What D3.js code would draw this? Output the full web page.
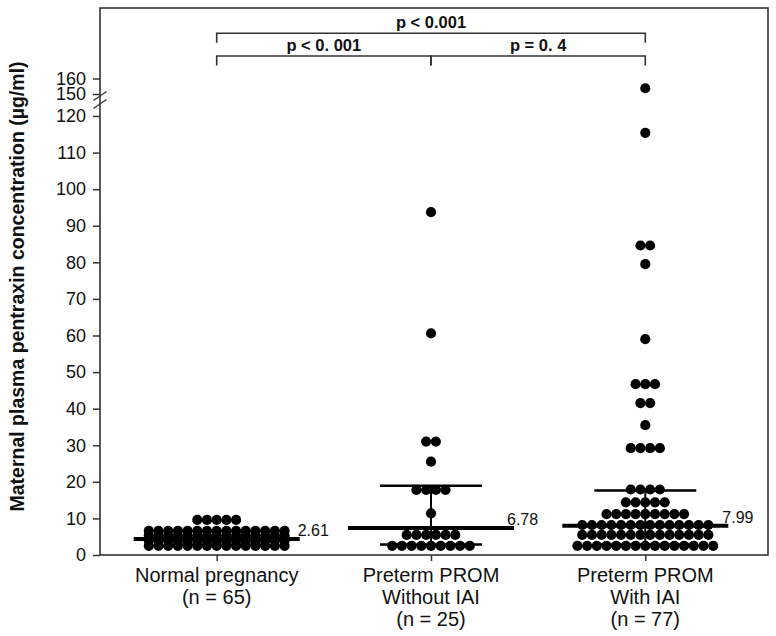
<!DOCTYPE html>
<html><head><meta charset="utf-8">
<script src="https://cdn.jsdelivr.net/npm/d3@7"></script>
<style>
body{margin:0;background:#fff}
svg{display:block}
text{font-family:"Liberation Sans",Arial,Helvetica,sans-serif;fill:#111}
</style>
</head><body><svg id="chart" width="776" height="636"></svg>
<script>
// ---------------- data ----------------
const groups = ["Normal pregnancy", "Preterm PROM Without IAI", "Preterm PROM With IAI"];
const groupLabelLines = [
  ["Normal pregnancy", "(n = 65)"],
  ["Preterm PROM", "Without IAI", "(n = 25)"],
  ["Preterm PROM", "With IAI", "(n = 77)"]
];
const normalValues = [
  9.6, 9.6, 9.6, 9.6, 9.6,
  6.6, 6.6, 6.6, 6.6, 6.6, 6.6, 6.6, 6.6, 6.6, 6.6, 6.6, 6.6, 6.6, 6.6, 6.6,
  5.3, 5.3, 5.3, 5.3, 5.3, 5.3, 5.3, 5.3, 5.3, 5.3, 5.3, 5.3, 5.3, 5.3, 5.3,
  3.9, 3.9, 3.9, 3.9, 3.9, 3.9, 3.9, 3.9, 3.9, 3.9, 3.9, 3.9, 3.9, 3.9, 3.9,
  2.5, 2.5, 2.5, 2.5, 2.5, 2.5, 2.5, 2.5, 2.5, 2.5, 2.5, 2.5, 2.5, 2.5, 2.5
];
const withoutIAIValues = [
  93.7, 60.6, 31.0, 31.0, 25.5,
  17.8, 17.8, 17.8, 17.8,
  11.4,
  5.5, 5.5, 5.5, 5.5, 5.5, 5.5,
  2.5, 2.5, 2.5, 2.5, 2.5, 2.5, 2.5, 2.5, 2.5
];
const withIAIValues = [
  153.7, 115.4, 84.6, 84.6, 79.5, 59.0,
  46.7, 46.7, 46.7, 41.5, 41.5, 35.5,
  29.2, 29.2, 29.2, 29.2,
  17.9, 17.9, 17.9, 17.9,
  14.4, 14.4, 14.4, 14.4, 14.4,
  11.2, 11.2, 11.2, 11.2, 11.2, 11.2, 11.2, 11.2, 11.2,
  8.2, 8.2, 8.2, 8.2, 8.2, 8.2, 8.2, 8.2, 8.2, 8.2, 8.2, 8.2, 8.2, 8.2,
  5.5, 5.5, 5.5, 5.5, 5.5, 5.5, 5.5, 5.5, 5.5, 5.5, 5.5, 5.5, 5.5, 5.5,
  2.5, 2.5, 2.5, 2.5, 2.5, 2.5, 2.5, 2.5, 2.5, 2.5, 2.5, 2.5, 2.5, 2.5, 2.5
];
const medianValues = [4.4, 7.4, 8.0];
const medianLabels = ["2.61", "6.78", "7.99"];
const whiskerLow = [2.9, 2.9, 2.9];
const whiskerHigh = [6.6, 18.9, 17.6];
const yTicksLow = [0, 10, 20, 30, 40, 50, 60, 70, 80, 90, 100, 110, 120];
const yTicksHigh = [150, 160];
const yTitle = "Maternal plasma pentraxin concentration (\u00b5g/ml)";
const comparisons = [
  {from: 0, to: 2, label: "p < 0.001", level: 1},
  {from: 0, to: 1, label: "p < 0. 001", level: 0},
  {from: 1, to: 2, label: "p = 0. 4", level: 0}
];

// ---------------- layout ----------------
(function draw() {
const allValues = [normalValues, withoutIAIValues, withIAIValues];
const pLeft = 100, pRight = 768, pTop = 8, pBottom = 555;
const svg = d3.select("#chart");
const ink = "#333";

const x = d3.scaleLinear().domain([0, 2]).range([216.7, 645.3]);
const yLow = d3.scaleLinear().domain([0, 120]).range([pBottom, 116]);
const yHigh = d3.scaleLinear().domain([150, 160]).range([94, 78.5]);
const y = v => v > 135 ? yHigh(v) : yLow(v);

// frame
svg.append("rect").attr("x", pLeft).attr("y", pTop)
  .attr("width", pRight - pLeft).attr("height", pBottom - pTop)
  .attr("fill", "none").attr("stroke", ink).attr("stroke-width", 1.6);

// y axes
function styleAxis(g) {
  g.select(".domain").remove();
  g.selectAll(".tick line").attr("stroke", ink).attr("stroke-width", 1.5);
  g.selectAll(".tick text").attr("font-size", 18).attr("fill", "#111")
    .attr("font-family", '"Liberation Sans",Arial,sans-serif');
}
svg.append("g").attr("transform", `translate(${pLeft},0)`)
  .call(d3.axisLeft(yLow).tickValues(yTicksLow).tickSize(7).tickPadding(7))
  .call(styleAxis);
svg.append("g").attr("transform", `translate(${pLeft},0)`)
  .call(d3.axisLeft(yHigh).tickValues(yTicksHigh).tickSize(7).tickPadding(7))
  .call(styleAxis);

// axis break marks
const brk = svg.append("g").attr("stroke", ink).attr("stroke-width", 1.3);
[96, 104].forEach(cy => {
  brk.append("line").attr("x1", pLeft - 6.5).attr("y1", cy + 4.5)
    .attr("x2", pLeft + 6.5).attr("y2", cy - 4.5);
});

// x axis ticks
const xAxis = svg.append("g").attr("transform", `translate(0,${pBottom})`)
  .call(d3.axisBottom(x).tickValues([0, 1, 2]).tickSize(6).tickFormat(""));
xAxis.select(".domain").remove();
xAxis.selectAll(".tick line").attr("stroke", ink).attr("stroke-width", 1.5);

// x labels
groupLabelLines.forEach((lines, i) => {
  const t = svg.append("text").attr("text-anchor", "middle")
    .attr("font-size", 20);
  lines.forEach((ln, j) => {
    t.append("tspan").attr("x", x(i)).attr("y", 582 + j * 22).text(ln);
  });
});

// y title
svg.append("text")
  .attr("transform", `translate(24,${286.5}) rotate(-90)`)
  .attr("text-anchor", "middle")
  .attr("font-size", 19.5).attr("font-weight", "bold")
  .text(yTitle);

// dots
const spacing = 9.7, r = 5.1;
allValues.forEach((vals, gi) => {
  const rows = d3.groups(vals, v => v);
  rows.forEach(([v, arr]) => {
    const n = arr.length;
    arr.forEach((_, k) => {
      svg.append("circle")
        .attr("cx", x(gi) + (k - (n - 1) / 2) * spacing)
        .attr("cy", y(v)).attr("r", r).attr("fill", "#000");
    });
  });
});

// median + whiskers
const medHalf = 83, whHalf = 51;
const labelDx = [81, 76, 77];
groups.forEach((g, i) => {
  const cx = x(i);
  svg.append("line").attr("x1", cx).attr("x2", cx)
    .attr("y1", y(whiskerLow[i])).attr("y2", y(whiskerHigh[i]))
    .attr("stroke", "#000").attr("stroke-width", 2);
  [whiskerLow[i], whiskerHigh[i]].forEach(w => {
    svg.append("line").attr("x1", cx - whHalf).attr("x2", cx + whHalf)
      .attr("y1", y(w)).attr("y2", y(w))
      .attr("stroke", "#000").attr("stroke-width", 2.5);
  });
  svg.append("line").attr("x1", cx - medHalf).attr("x2", cx + medHalf)
    .attr("y1", y(medianValues[i])).attr("y2", y(medianValues[i]))
    .attr("stroke", "#000").attr("stroke-width", 4);
  svg.append("text").attr("x", cx + labelDx[i]).attr("y", y(medianValues[i]) - 3)
    .attr("font-size", 16).text(medianLabels[i]);
});

// comparison brackets
const levelY = [56, 33.3];
comparisons.forEach(c => {
  const ly = levelY[c.level];
  const x1 = x(c.from), x2 = x(c.to);
  svg.append("path")
    .attr("d", `M${x1},${ly + 9.5}V${ly}H${x2}V${ly + 9.5}`)
    .attr("fill", "none").attr("stroke", ink).attr("stroke-width", 1.6);
  svg.append("text").attr("x", (x1 + x2) / 2).attr("y", ly - 5.5)
    .attr("text-anchor", "middle").attr("font-size", 16.5)
    .attr("font-weight", "bold").text(c.label);
});
})();
</script>
</body></html>
